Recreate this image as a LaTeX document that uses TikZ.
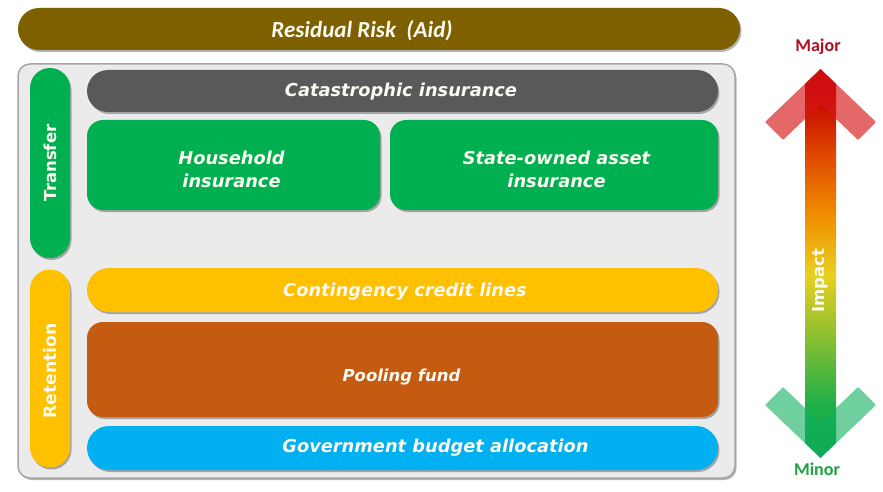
\documentclass[tikz,border=0pt]{standalone}
\usepackage{fontspec}
\usepackage{graphicx}
\usetikzlibrary{shadows}
\newfontfamily\boxfont{DejaVu Sans}
\newfontfamily\capfont{Carlito}

\definecolor{riskbrown}{HTML}{7F6000}
\definecolor{panelfill}{HTML}{EBEBEB}
\definecolor{panelline}{HTML}{A6A6A6}
\definecolor{catgrey}{HTML}{595959}
\definecolor{insgreen}{HTML}{00B050}
\definecolor{credityellow}{HTML}{FFC000}
\definecolor{poolorange}{HTML}{C55A11}
\definecolor{budgetblue}{HTML}{00B0F0}
\definecolor{majorred}{HTML}{B01020}
\definecolor{minorgreen}{HTML}{20A040}
\definecolor{headred}{HTML}{D81818}
\definecolor{headgreen}{HTML}{10B060}
\definecolor{labelwhite}{HTML}{FAFAF0}

% colour ramp of the impact shaft, bottom (minor) to top (major)
\definecolor{sgB}{HTML}{10A048}
\definecolor{sgA}{HTML}{20B048}
\definecolor{syg}{HTML}{90C030}
\definecolor{syy}{HTML}{E8D020}
\definecolor{soo}{HTML}{F09000}
\definecolor{sro}{HTML}{E04800}
\definecolor{srr}{HTML}{C00000}
\pgfdeclareverticalshading{impactshade}{100bp}{%
  color(0bp)=(sgB); color(25bp)=(sgB); color(32bp)=(sgA);
  color(41bp)=(syg); color(48.5bp)=(syy); color(56bp)=(soo);
  color(64bp)=(sro); color(72bp)=(srr); color(75bp)=(srr); color(100bp)=(srr)}

\tikzset{
  softshadow/.style={drop shadow={shadow xshift=1.5pt, shadow yshift=-2pt,
      opacity=0.3, fill=black}},
  bar/.style={softshadow, draw=none, inner sep=0pt, rectangle},
  bartext/.style={text=labelwhite, inner sep=0pt, align=center,
      font=\boxfont\bfseries\itshape\fontsize{17.8}{23}\selectfont},
  pill/.style={softshadow, draw=none, inner sep=0pt, rectangle,
      rounded corners=20pt, minimum width=40pt},
  pilltext/.style={text=labelwhite, inner sep=0pt,
      font=\boxfont\bfseries\fontsize{16.5}{20}\selectfont},
  scalelabel/.style={font=\capfont\bfseries\fontsize{18}{20}\selectfont, inner sep=0pt},
}

\begin{document}
\begin{tikzpicture}[x=1pt, y=-1pt]
\useasboundingbox (0,0) rectangle (883,492);
\fill[white] (0,0) rectangle (883,492);

% top band
\node[bar, fill=riskbrown, minimum width=722pt, minimum height=42pt,
      rounded corners=21pt] (residual) at (379,29) {};
\node[bartext, anchor=base, font=\capfont\bfseries\itshape\fontsize{23}{25}\selectfont]
      (residualtxt) at (362,38) {Residual Risk~ (Aid)};

% grey panel holding the instruments
\node[softshadow, draw=panelline, line width=1.5pt, fill=panelfill, rounded corners=12pt,
      minimum width=717pt, minimum height=414pt, inner sep=0pt] (panel) at (376.5,271) {};

% side labels
\node[pill, fill=insgreen, minimum height=190pt] (transfer) at (50,163) {};
\node[pilltext] (transfertxt) at (transfer.center) {\rotatebox{90}{Transfer}};
\node[pill, fill=credityellow, minimum height=198pt] (retention) at (50,368.5) {};
\node[pilltext, font=\boxfont\bfseries\fontsize{17.3}{20}\selectfont]
      (retentiontxt) at (50,371) {\rotatebox{90}{Retention}};

% transfer instruments
\node[bar, fill=catgrey, minimum width=631pt, minimum height=42pt, rounded corners=21pt]
      (catas) at (402.5,91) {};
\node[bartext, anchor=base] (catastxt) at (401,97) {Catastrophic insurance};
\node[bar, fill=insgreen, minimum width=293pt, minimum height=90pt, rounded corners=16pt]
      (household) at (233.5,165) {};
\node[bartext] (householdtxt) at (231.5,169) {Household\\insurance};
\node[bar, fill=insgreen, minimum width=328pt, minimum height=90pt, rounded corners=16pt]
      (state) at (554,165) {};
\node[bartext] (statetxt) at (556.5,169) {State-owned asset\\insurance};

% retention instruments
\node[bar, fill=credityellow, minimum width=631pt, minimum height=44pt, rounded corners=22pt]
      (credit) at (402.5,290) {};
\node[bartext, anchor=base] (credittxt) at (405,296) {Contingency credit lines};
\node[bar, fill=poolorange, minimum width=631pt, minimum height=95pt, rounded corners=16pt]
      (pool) at (402.5,369.5) {};
\node[bartext, anchor=base, font=\boxfont\bfseries\itshape\fontsize{16.5}{20}\selectfont]
      (pooltxt) at (401.5,381) {Pooling fund};
\node[bar, fill=budgetblue, minimum width=631pt, minimum height=44pt, rounded corners=22pt]
      (budget) at (402.5,448) {};
\node[bartext, anchor=base] (budgettxt) at (435.5,452) {Government budget allocation};

% impact scale: shaded shaft with translucent chevron heads
\shade[shading=impactshade]
  (805,84) -- (820.5,69) -- (836,84) -- (836,443) -- (820.5,458) -- (805,443) -- cycle;
\fill[headred, opacity=0.65, rounded corners=1pt]
  (820.5,69) -- (876,122) -- (858,140) -- (820.5,104) -- (783,140) -- (765,122) -- cycle;
\fill[headgreen, opacity=0.6, rounded corners=1pt]
  (820.5,458) -- (876,405) -- (858,387) -- (820.5,423) -- (783,387) -- (765,405) -- cycle;
\node[pilltext] (impact) at (820.5,281) {\rotatebox{90}{Impact}};
\node[scalelabel, text=majorred] (major) at (818,47) {Major};
\node[scalelabel, text=minorgreen] (minor) at (817,469) {Minor};
\end{tikzpicture}
\end{document}
